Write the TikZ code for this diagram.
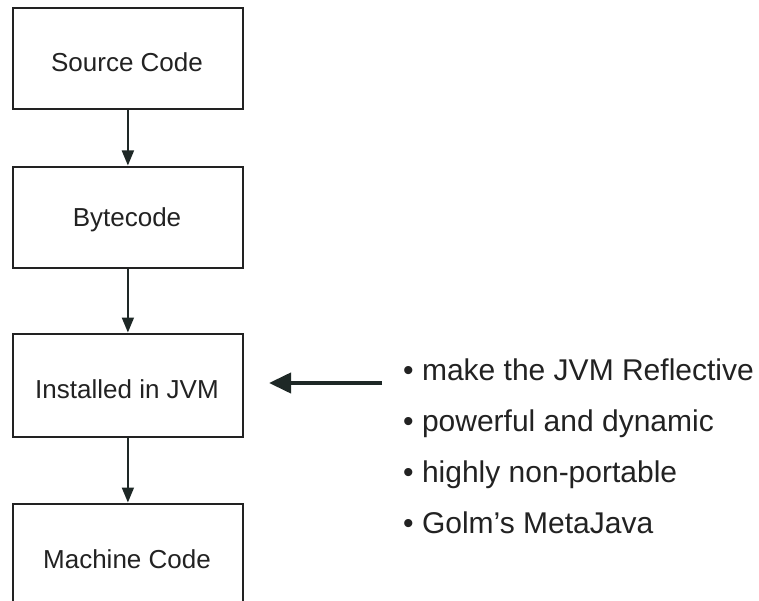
\documentclass[tikz,border=0pt]{standalone}
\usepackage{fontspec}
\setmainfont{Liberation Sans}
\usetikzlibrary{arrows.meta}
\definecolor{ink}{HTML}{222222}
\definecolor{arrowink}{HTML}{1E2826}
\begin{document}
\begin{tikzpicture}[x=1pt,y=-1pt,
  stagebox/.style={draw=ink, line width=1.8pt, minimum width=230pt, minimum height=101pt,
    inner sep=0pt, anchor=north west},
  stagetext/.style={anchor=base, inner sep=0pt, text=ink, font=\fontsize{26}{30}\selectfont},
  flow/.style={draw=arrowink, line width=1.8pt,
    -{Triangle[length=15pt,width=12pt]}, shorten >=0.5pt},
  bigflow/.style={draw=arrowink, line width=4pt,
    -{Triangle[length=22pt,width=20pt]}},
  bullet/.style={anchor=base west, inner sep=0pt, text=ink,
    font=\fontsize{30}{34}\selectfont}]
\useasboundingbox (0,0) rectangle (759,601);
\fill[white] (0,0) rectangle (759,601);

% processing stages
\node[stagebox] (src) at (12,7) {};
\node[stagebox] (byte) at (12,166) {};
\node[stagebox, minimum height=103pt] (jvm) at (12,333) {};
\node[stagebox] (mach) at (12,503) {};

\node[stagetext] (srct) at (127,72) {Source Code};
\node[stagetext] (bytet) at (127,227) {Bytecode};
\node[stagetext] (jvmt) at (127,398) {Installed in JVM};
\node[stagetext] (macht) at (127,568) {Machine Code};

% arrows between stages
\draw[flow] (src.south) -- (byte.north);
\draw[flow] (byte.south) -- (jvm.north);
\draw[flow] (jvm.south) -- (mach.north);

% remarks on reflection
\node[bullet] (b1) at (403,380) {\textbullet\ make the JVM Reflective};
\node[bullet] (b2) at (403,431) {\textbullet\ powerful and dynamic};
\node[bullet] (b3) at (403,482) {\textbullet\ highly non-portable};
\node[bullet] (b4) at (403,533) {\textbullet\ Golm’s MetaJava};

\coordinate (from) at (382,383);
\coordinate (to) at (269,383);
\draw[bigflow] (from) -- (to);
\end{tikzpicture}
\end{document}
